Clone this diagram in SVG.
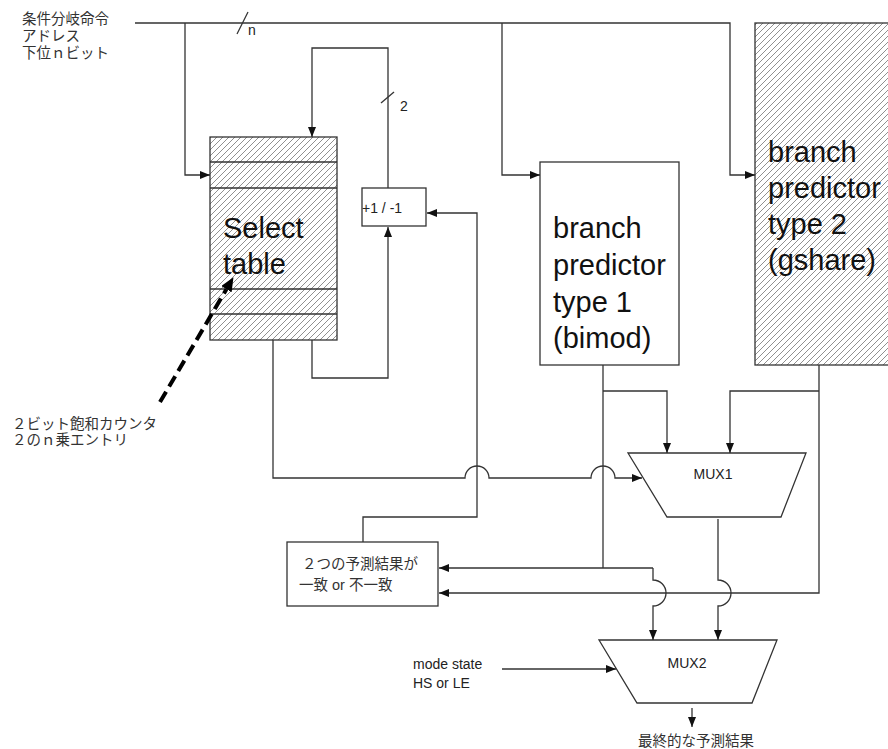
<svg xmlns="http://www.w3.org/2000/svg" width="888" height="749" viewBox="0 0 888 749">
<style>
.ln{fill:none;stroke:#333;stroke-width:1.3}
.box{fill:#fff;stroke:#333;stroke-width:1.3}
.hb{fill:url(#hatch);stroke:#333;stroke-width:1.3}
.big{font-family:"Liberation Sans",Arial,sans-serif;font-size:29px;fill:#111}
.sm{font-family:"Liberation Sans",Arial,sans-serif;font-size:14px;fill:#222}
.jp{font-family:"Liberation Sans","Noto Sans CJK JP",sans-serif;font-size:14.5px;fill:#333}
</style>
<defs>
<pattern id="hatch" patternUnits="userSpaceOnUse" width="6" height="6">
<rect width="6" height="6" fill="#fff"/>
<path d="M-1,1 L1,-1 M0,6 L6,0 M5,7 L7,5" stroke="#444" stroke-width="0.6"/>
</pattern>
<marker id="arr" markerUnits="userSpaceOnUse" markerWidth="10" markerHeight="8" refX="10" refY="4" orient="auto">
<path d="M0,0 L10,4 L0,8 z" fill="#111"/>
</marker>
<marker id="darr" markerUnits="userSpaceOnUse" markerWidth="14" markerHeight="12" refX="0" refY="6" orient="auto">
<path d="M0,0 L14,6 L0,12 z" fill="#000"/>
</marker>
</defs>
<rect width="888" height="749" fill="#fff"/>

<g id="address-label">
<text class="jp" x="22" y="24">条件分岐命令</text>
<text class="jp" x="22" y="41">アドレス</text>
<text class="jp" x="22" y="58">下位ｎビット</text>
<text class="sm" x="248" y="35" font-size="13">n</text>
<text class="sm" x="400" y="111" font-size="13">2</text>
</g>

<g id="select-table">
<rect class="hb" x="210" y="137" width="127" height="203"/>
<path class="ln" d="M210,162 H337 M210,188 H337 M210,289 H337 M210,314 H337"/>
<text class="big" x="223" y="238">Select</text>
<text class="big" x="223" y="274">table</text>
</g>

<g id="counter">
<rect class="box" x="362" y="188" width="64" height="38"/>
<text class="sm" x="362" y="213">+1 / -1</text>
</g>

<g id="bimod">
<rect class="box" x="540" y="162" width="139" height="203"/>
<text class="big" x="553" y="238">branch</text>
<text class="big" x="553" y="275">predictor</text>
<text class="big" x="553" y="312">type 1</text>
<text class="big" x="553" y="348">(bimod)</text>
</g>

<g id="gshare">
<rect class="hb" x="755" y="23" width="140" height="342"/>
<text class="big" x="768" y="162">branch</text>
<text class="big" x="768" y="198">predictor</text>
<text class="big" x="768" y="234">type 2</text>
<text class="big" x="768" y="270">(gshare)</text>
</g>

<g id="mux1">
<path class="box" d="M628,453 H806 L781,517 H667 Z"/>
<text class="sm" x="713" y="479" text-anchor="middle" font-size="14.5">MUX1</text>
</g>

<g id="compare">
<rect class="box" x="287" y="542" width="151" height="64"/>
<text class="jp" x="302" y="569">２つの予測結果が</text>
<text class="jp" x="299" y="590">一致 or 不一致</text>
</g>

<g id="mux2">
<path class="box" d="M599,640 H777 L752,703 H637 Z"/>
<text class="sm" x="687" y="668" text-anchor="middle" font-size="14.5">MUX2</text>
</g>

<g id="mode-label">
<text class="sm" x="413" y="669">mode state</text>
<text class="sm" x="413" y="688">HS or LE</text>
</g>

<g id="counter-label">
<text class="jp" x="12" y="429">２ビット飽和カウンタ</text>
<text class="jp" x="12" y="445">２のｎ乗エントリ</text>
</g>

<g id="result-label">
<text class="jp" x="638" y="746" font-size="15.5">最終的な予測結果</text>
</g>

<g id="connectors">
<path class="ln" d="M135,23 H730 V175 H755" marker-end="url(#arr)"/>
<path class="ln" d="M185,23 V175 H210" marker-end="url(#arr)"/>
<path class="ln" d="M502,23 V175 H540" marker-end="url(#arr)"/>
<path class="ln" d="M237,34 L248,12"/>
<path class="ln" d="M312,340 V378 H388 V227" marker-end="url(#arr)"/>
<path class="ln" d="M388,188 V48 H312 V137" marker-end="url(#arr)"/>
<path class="ln" d="M381,103 L394,92"/>
<path class="ln" d="M363,542 V517 H477 V213 H427" marker-end="url(#arr)"/>
<path class="ln" d="M273,340 V478 H465 A12,12 0 0 1 489,478 H591 A12,12 0 0 1 615,478 H642" marker-end="url(#arr)"/>
<path class="ln" d="M603,365 V568"/>
<path class="ln" d="M603,391 H667 V453" marker-end="url(#arr)"/>
<path class="ln" d="M819,365 V593 H439" marker-end="url(#arr)"/>
<path class="ln" d="M819,391 H730 V453" marker-end="url(#arr)"/>
<path class="ln" d="M653,568 H439" marker-end="url(#arr)"/>
<path class="ln" d="M653,568 V580 A13,13 0 0 1 653,606 V640" marker-end="url(#arr)"/>
<path class="ln" d="M718,519 V580 A13,13 0 0 1 718,606 V640" marker-end="url(#arr)"/>
<path class="ln" d="M502,669 H616" marker-end="url(#arr)"/>
<path class="ln" d="M692,708 V727" marker-end="url(#arr)"/>
<path d="M160,402 L226.4,289.2" fill="none" stroke="#000" stroke-width="4" stroke-dasharray="12,6" marker-end="url(#darr)"/>
</g>
</svg>
